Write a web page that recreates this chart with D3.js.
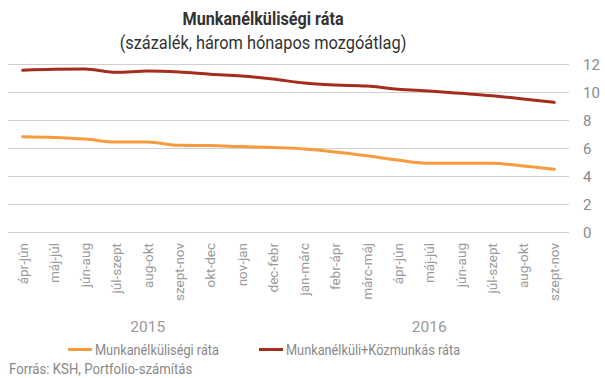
<!DOCTYPE html>
<html><head><meta charset="utf-8">
<script src="https://cdn.jsdelivr.net/npm/d3@7"></script>
<style>body{margin:0;background:#fff;}svg{display:block;font-family:Roboto,"Noto Sans",sans-serif;}</style>
</head><body>
<svg id="c" width="605" height="378"></svg>
<script>
const categories = ["ápr-jún","máj-júl","jún-aug","júl-szept","aug-okt","szept-nov","okt-dec","nov-jan","dec-febr","jan-márc","febr-ápr","márc-máj","ápr-jún","máj-júl","jún-aug","júl-szept","aug-okt","szept-nov"];
const years = [{label:"2015", from:0, to:8},{label:"2016", from:9, to:17}];
const unemp = [6.83,6.78,6.66,6.45,6.45,6.21,6.2,6.12,6.05,5.95,5.74,5.47,5.16,4.93,4.93,4.93,4.74,4.5];
const unempPublic = [11.57,11.64,11.66,11.43,11.52,11.45,11.29,11.16,10.95,10.66,10.52,10.45,10.22,10.09,9.93,9.76,9.52,9.28];
const yTicks = [0,2,4,6,8,10,12];
const seriesNames = ["Munkanélküliségi ráta","Munkanélküli+Közmunkás ráta"];
const colors = ["#f89a3e","#a52d1d"];

const svg = d3.select("#c");
const x = d3.scaleBand().domain(d3.range(categories.length)).range([7, 570]);
const y = d3.scaleLinear().domain([0,12]).range([232.3, 64.3]);

// helper: horizontally condensed text
function ctext(g, tx, ty, sx, anchor){
  return g.append("text").attr("transform",`translate(${tx},${ty}) scale(${sx},1)`).attr("text-anchor",anchor||"start");
}

// grid
svg.append("g").selectAll("line").data(yTicks).join("line")
  .attr("x1",8).attr("x2",569)
  .attr("y1",d=>Math.round(y(d))+0.5).attr("y2",d=>Math.round(y(d))+0.5)
  .attr("stroke","#d0d0d0").attr("stroke-width",1);
svg.append("g").selectAll("text").data(yTicks).join("text")
  .attr("x",583).attr("y",d=>y(d)).attr("dy","0.35em")
  .attr("fill","#8a8a8a").attr("font-size",15).text(d=>d);

// category labels
const cx = i => x(i) + x.bandwidth()/2;
svg.append("g").selectAll("text").data(categories).join("text")
  .attr("transform",(d,i)=>`translate(${cx(i)+5},243) rotate(-90)`)
  .attr("text-anchor","end").attr("fill","#999").attr("font-size",13.5).text(d=>d);
svg.append("g").selectAll("text").data(years).join("text")
  .attr("x",d=>(cx(d.from)+cx(d.to))/2).attr("y",332)
  .attr("text-anchor","middle").attr("fill","#999").attr("font-size",15.5).text(d=>d.label);

// lines
const line = d3.line().x((d,i)=>cx(i)).y(d=>y(d)).curve(d3.curveMonotoneX);
[unemp, unempPublic].forEach((s,k)=>{
  svg.append("path").datum(s).attr("d",line).attr("fill","none")
    .attr("stroke",colors[k]).attr("stroke-width",3).attr("stroke-linejoin","round").attr("stroke-linecap","round");
});

// title
ctext(svg,263,25,0.9,"middle").attr("font-weight","bold").attr("font-size",18).attr("fill","#333").text("Munkanélküliségi ráta");
ctext(svg,263,49,0.91,"middle").attr("font-size",18).attr("fill","#333").text("(százalék, három hónapos mozgóátlag)");

// legend
const legX = [68, 259];
seriesNames.forEach((n,k)=>{
  svg.append("line").attr("x1",legX[k]).attr("x2",legX[k]+24).attr("y1",349.5).attr("y2",349.5)
    .attr("stroke",colors[k]).attr("stroke-width",3);
  ctext(svg,legX[k]+27,354.5,0.85).attr("fill","#888").attr("font-size",15).text(n);
});
ctext(svg,9,373.5,0.88).attr("fill","#888").attr("font-size",15).text("Forrás: KSH, Portfolio-számítás");
</script>
</body></html>
